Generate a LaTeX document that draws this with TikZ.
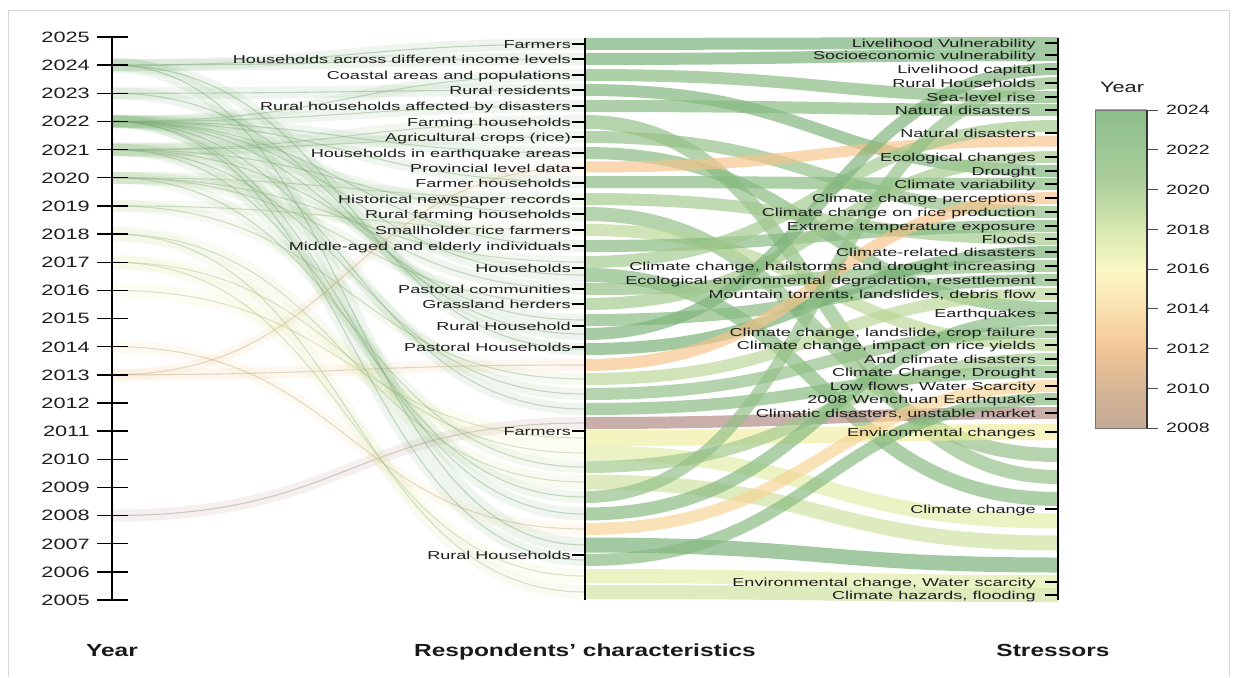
\documentclass[tikz,border=0pt]{standalone}
\usepackage{fontspec}
\setmainfont{Liberation Sans}
\usepackage{graphicx}

% year colours used for the flows
\definecolor{yr2024}{RGB}{118,176,118}
\definecolor{yr2023}{RGB}{126,180,122}
\definecolor{yr2022}{RGB}{134,186,128}
\definecolor{yr2021}{RGB}{146,192,134}
\definecolor{yr2020}{RGB}{162,200,142}
\definecolor{yr2019}{RGB}{186,214,152}
\definecolor{yr2018}{RGB}{206,226,160}
\definecolor{yr2017}{RGB}{226,236,166}
\definecolor{yr2016}{RGB}{240,238,160}
\definecolor{yr2015}{RGB}{244,226,156}
\definecolor{yr2014}{RGB}{246,212,150}
\definecolor{yr2013}{RGB}{244,196,140}
\definecolor{yr2008}{RGB}{176,136,128}
% colour bar stops
\definecolor{c2008}{RGB}{196,170,150}
\definecolor{c2010}{RGB}{214,182,150}
\definecolor{c2012}{RGB}{242,198,150}
\definecolor{c2014}{RGB}{250,224,176}
\definecolor{c2016}{RGB}{250,248,196}
\definecolor{c2018}{RGB}{216,232,176}
\definecolor{c2020}{RGB}{178,210,158}
\definecolor{c2022}{RGB}{156,198,148}
\definecolor{c2024}{RGB}{140,188,140}
\definecolor{ink}{RGB}{30,30,30}
\definecolor{frame}{RGB}{215,215,215}
\definecolor{threadgray}{RGB}{120,140,110}

\newcommand{\lblx}[1]{\scalebox{1.57}[1]{#1}}
\newcommand{\yrx}[1]{\scalebox{1.45}[1]{#1}}
\newcommand{\ttlx}[1]{\scalebox{1.4}[1]{#1}}

\begin{document}
\begin{tikzpicture}[x=1pt,y=-1pt,
  txt/.style={text=ink, inner sep=0pt},
  midlab/.style={txt, anchor=base east, font=\fontsize{11.5}{12}\selectfont},
  yearlab/.style={txt, anchor=base east, font=\fontsize{15}{16}\selectfont},
  barlab/.style={txt, anchor=base west, font=\fontsize{13.5}{14}\selectfont},
  title/.style={text=black!90, inner sep=0pt, anchor=base, font=\fontsize{17.5}{18}\selectfont\bfseries},
  axisline/.style={black, line width=2pt},
  tickline/.style={black, line width=1.4pt},
  faint/.style={draw opacity=0.13},
  thread/.style={line width=1.1pt, draw opacity=0.40},
  ribbon/.style={draw opacity=0.68}
]
\useasboundingbox (0,0) rectangle (1238,677);

% light frame
\draw[frame, line width=0.8pt] (8,677) -- (8,10) -- (1229,10) -- (1229,677);

% ---------- flows: year -> respondents -> stressors ----------
\def\flows{
 2024/44/43/12, 2024/59/55/12, 2022/75/97/12, 2023/90/171/12,
 2022/106/110/12, 2021/122/477/14, 2021/137/212/12, 2022/153/308/12,
 2013/167/141/11, 2022/182/184/12, 2020/199/239/12, 2021/214/455/14,
 2019/230/345/12, 2022/246/226/12, 2020/262/126/12, 2022/275/499/14,
 2021/289/266/12, 2020/304/157/12, 2022/320/280/12, 2023/334/69/12,
 2024/349/252/12, 2013/365/198/12, 2019/379/294/12, 2021/394/332/12,
 2022/409/372/12, 2008/423/413/12, 2016/438/432/16, 2017/453/521/15,
 2020/467/359/12, 2018/482/543/15, 2021/497/83/12, 2022/514/318/13,
 2014/529/386/12, 2024/545/565/15, 2022/560/399/12, 2017/576/582/14,
 2018/592/595/14}

% left part: thin threads from the year axis
\foreach \yr/\ya/\yb/\w in \flows {
  \pgfmathsetmacro{\yy}{37+(2025-\yr)*28.15}
  \draw[line width=\w pt, draw=yr\yr, faint]
    (112,\yy) .. controls (350,\yy) and (350,\ya) .. (585,\ya);
  \draw[thread, draw=yr\yr!45!threadgray]
    (112,\yy) .. controls (350,\yy) and (350,\ya) .. (585,\ya);
}
% right part: wide ribbons to the stressors
\foreach \yr/\ya/\yb/\w in \flows {
  \draw[line width=\w pt, draw=yr\yr, ribbon]
    (585,\ya) .. controls (822,\ya) and (822,\yb) .. (1058,\yb);
}

% ---------- year axis ----------
\coordinate (yTop) at (112,37);
\coordinate (yBot) at (112,600);
\draw[axisline] (yTop) -- (yBot);
\foreach \yr in {2005,...,2025} {
  \pgfmathsetmacro{\yy}{37+(2025-\yr)*28.15}
  \coordinate (yl\yr) at (97,\yy);
  \coordinate (yr\yr) at (128,\yy);
  \draw[tickline] (yl\yr) -- (yr\yr);
  \node[yearlab] (ylab\yr) at (90,\yy+5.4) {\yrx{\yr}};
}

% ---------- respondents axis ----------
\coordinate (mTop) at (585,38);
\coordinate (mBot) at (585,600);
\draw[axisline] (mTop) -- (mBot);
\foreach \t/\y [count=\i] in {
 Farmers/44, Households across different income levels/59,
 Coastal areas and populations/75, Rural residents/90,
 Rural households affected by disasters/106, Farming households/122,
 Agricultural crops (rice)/137, Households in earthquake areas/153,
 Provincial level data/168, Farmer households/183,
 Historical newspaper records/199, Rural farming households/214,
 Smallholder rice farmers/230, Middle-aged and elderly individuals/246,
 Households/268, Pastoral communities/289, Grassland herders/304,
 Rural Household/326, Pastoral Households/347, Farmers/431,
 Rural Households/555} {
  \node[midlab] (m\i) at (571,\y+4.1) {\lblx{\t}};
  \coordinate (mt\i) at (572,\y);
  \coordinate (ma\i) at (585,\y);
  \draw[tickline, line width=1.2pt] (mt\i) -- (ma\i);
}

% ---------- stressors axis ----------
\coordinate (sTop) at (1058,38);
\coordinate (sBot) at (1058,600);
\draw[axisline] (sTop) -- (sBot);
\foreach \t/\y [count=\i] in {
 Livelihood Vulnerability/43, Socioeconomic vulnerability/55,
 Livelihood capital/69, Rural Households/83, Sea-level rise/97,
 Natural disasters\hspace{3.5pt}/110, Natural disasters/133,
 Ecological changes/157, Drought/171, Climate variability/184,
 Climate change perceptions/198, Climate change on rice production/212,
 Extreme temperature exposure/226, Floods/239,
 Climate-related disasters/252,
 {Climate change, hailstorms and drought increasing}/266,
 {Ecological environmental degradation, resettlement}/280,
 {Mountain torrents, landslides, debris flow}/294, Earthquakes/313,
 {Climate change, landslide, crop failure}/332,
 {Climate change, impact on rice yields}/345,
 And climate disasters/359, {Climate Change, Drought}/372,
 {Low flows, Water Scarcity}/386, 2008 Wenchuan Earthquake/399,
 {Climatic disasters, unstable market}/413, Environmental changes/432,
 Climate change/509, {Environmental change, Water scarcity}/582,
 {Climate hazards, flooding}/595} {
  \node[midlab] (s\i) at (1036,\y+4.1) {\lblx{\t}};
  \coordinate (st\i) at (1045,\y);
  \coordinate (sa\i) at (1058,\y);
  \draw[tickline, line width=1.2pt] (st\i) -- (sa\i);
}

% ---------- axis titles ----------
\node[title] (tYear) at (112,656) {\ttlx{Year}};
\node[title] (tResp) at (585,656) {\ttlx{Respondents’ characteristics}};
\node[title] (tStr) at (1053,656) {\ttlx{Stressors}};

% ---------- colour bar ----------
\foreach \a/\b [count=\k from 0] in {c2008/c2010, c2010/c2012, c2012/c2014,
   c2014/c2016, c2016/c2018, c2018/c2020, c2020/c2022, c2022/c2024} {
  \shade[bottom color=\a, top color=\b]
    (1095,{428-\k*39.75+0.4}) rectangle (1147,{428-(\k+1)*39.75-0.4});
}
\coordinate (barNW) at (1095,110);
\coordinate (barSE) at (1147,428);
\draw[black!55, line width=0.8pt] (barNW) rectangle (barSE);
\draw[black!80, line width=1.3pt] (1147,110) -- (1147,428);
\foreach \yr [count=\k from 0] in {2008,2010,...,2024} {
  \pgfmathsetmacro{\yy}{428-\k*39.75}
  \coordinate (bt\yr) at (1147,\yy);
  \coordinate (be\yr) at (1158,\yy);
  \draw[black!70, line width=1pt] (bt\yr) -- (be\yr);
  \node[barlab] (bl\yr) at (1166,\yy+4.8) {\yrx{\yr}};
}
\node[txt, anchor=base, font=\fontsize{15}{16}\selectfont] (barTitle) at (1122,92) {\yrx{Year}};

\end{tikzpicture}
\end{document}
